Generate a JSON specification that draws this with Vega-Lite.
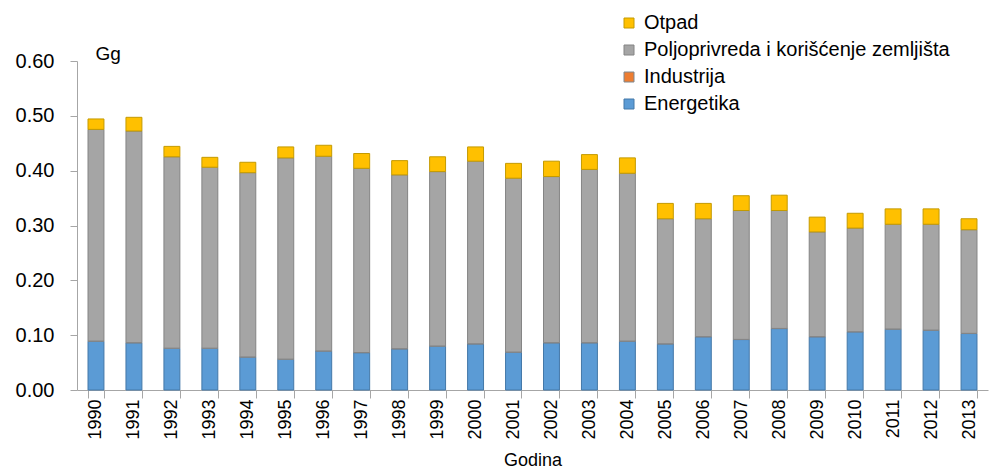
{
  "$schema": "https://vega.github.io/schema/vega-lite/v6.json",
  "width": 911,
  "height": 329,
  "autosize": {"type": "none"},
  "padding": {"left": 77, "top": 61, "right": 1, "bottom": 82},
  "background": "white",
  "config": {"view": {"stroke": null}, "font": "Liberation Sans"},
  "data": {"values": [
    {"godina": "1990", "Energetika": 0.089, "Industrija": 0.0003, "Poljoprivreda i korišćenje zemljišta": 0.386, "Otpad": 0.019},
    {"godina": "1991", "Energetika": 0.086, "Industrija": 0.0003, "Poljoprivreda i korišćenje zemljišta": 0.386, "Otpad": 0.025},
    {"godina": "1992", "Energetika": 0.076, "Industrija": 0.0003, "Poljoprivreda i korišćenje zemljišta": 0.349, "Otpad": 0.019},
    {"godina": "1993", "Energetika": 0.076, "Industrija": 0.0003, "Poljoprivreda i korišćenje zemljišta": 0.330, "Otpad": 0.018},
    {"godina": "1994", "Energetika": 0.060, "Industrija": 0.0003, "Poljoprivreda i korišćenje zemljišta": 0.336, "Otpad": 0.019},
    {"godina": "1995", "Energetika": 0.056, "Industrija": 0.0003, "Poljoprivreda i korišćenje zemljišta": 0.367, "Otpad": 0.020},
    {"godina": "1996", "Energetika": 0.071, "Industrija": 0.0003, "Poljoprivreda i korišćenje zemljišta": 0.355, "Otpad": 0.020},
    {"godina": "1997", "Energetika": 0.068, "Industrija": 0.0003, "Poljoprivreda i korišćenje zemljišta": 0.336, "Otpad": 0.027},
    {"godina": "1998", "Energetika": 0.075, "Industrija": 0.0003, "Poljoprivreda i korišćenje zemljišta": 0.317, "Otpad": 0.026},
    {"godina": "1999", "Energetika": 0.080, "Industrija": 0.0003, "Poljoprivreda i korišćenje zemljišta": 0.318, "Otpad": 0.027},
    {"godina": "2000", "Energetika": 0.084, "Industrija": 0.0003, "Poljoprivreda i korišćenje zemljišta": 0.333, "Otpad": 0.026},
    {"godina": "2001", "Energetika": 0.069, "Industrija": 0.0003, "Poljoprivreda i korišćenje zemljišta": 0.317, "Otpad": 0.027},
    {"godina": "2002", "Energetika": 0.086, "Industrija": 0.0003, "Poljoprivreda i korišćenje zemljišta": 0.303, "Otpad": 0.028},
    {"godina": "2003", "Energetika": 0.086, "Industrija": 0.0003, "Poljoprivreda i korišćenje zemljišta": 0.316, "Otpad": 0.027},
    {"godina": "2004", "Energetika": 0.089, "Industrija": 0.0003, "Poljoprivreda i korišćenje zemljišta": 0.306, "Otpad": 0.028},
    {"godina": "2005", "Energetika": 0.084, "Industrija": 0.0003, "Poljoprivreda i korišćenje zemljišta": 0.228, "Otpad": 0.028},
    {"godina": "2006", "Energetika": 0.097, "Industrija": 0.0003, "Poljoprivreda i korišćenje zemljišta": 0.215, "Otpad": 0.028},
    {"godina": "2007", "Energetika": 0.092, "Industrija": 0.0003, "Poljoprivreda i korišćenje zemljišta": 0.235, "Otpad": 0.027},
    {"godina": "2008", "Energetika": 0.112, "Industrija": 0.0003, "Poljoprivreda i korišćenje zemljišta": 0.215, "Otpad": 0.028},
    {"godina": "2009", "Energetika": 0.097, "Industrija": 0.0003, "Poljoprivreda i korišćenje zemljišta": 0.191, "Otpad": 0.027},
    {"godina": "2010", "Energetika": 0.106, "Industrija": 0.0003, "Poljoprivreda i korišćenje zemljišta": 0.189, "Otpad": 0.027},
    {"godina": "2011", "Energetika": 0.111, "Industrija": 0.0003, "Poljoprivreda i korišćenje zemljišta": 0.191, "Otpad": 0.028},
    {"godina": "2012", "Energetika": 0.109, "Industrija": 0.0003, "Poljoprivreda i korišćenje zemljišta": 0.193, "Otpad": 0.028},
    {"godina": "2013", "Energetika": 0.103, "Industrija": 0.0003, "Poljoprivreda i korišćenje zemljišta": 0.189, "Otpad": 0.020}
  ]},
  "transform": [
    {"fold": ["Energetika", "Industrija", "Poljoprivreda i korišćenje zemljišta", "Otpad"], "as": ["sektor", "vrednost"]},
    {"calculate": "indexof(['Energetika','Industrija','Poljoprivreda i korišćenje zemljišta','Otpad'], datum.sektor)", "as": "redosled"}
  ],
  "mark": {"type": "bar", "strokeWidth": 1},
  "encoding": {
    "x": {
      "field": "godina", "type": "nominal",
      "scale": {"paddingInner": 0.58, "paddingOuter": 0.29},
      "axis": {
        "title": "Godina", "titleFont": "Liberation Sans", "titleFontSize": 18, "titleFontWeight": "normal", "titleColor": "#000", "titlePadding": 12,
        "labelAngle": -90, "labelFont": "Liberation Sans", "labelFontSize": 18, "labelColor": "#000", "labelPadding": 1,
        "domainColor": "#A6A6A6", "tickColor": "#A6A6A6", "tickBand": "extent", "tickSize": 8
      }
    },
    "y": {
      "field": "vrednost", "type": "quantitative", "stack": "zero",
      "scale": {"domain": [0, 0.6], "nice": false},
      "axis": {
        "title": "Gg", "titleAngle": 0, "titleX": 18, "titleY": -8, "titleAlign": "left", "titleBaseline": "middle",
        "titleFont": "Liberation Sans", "titleFontSize": 19, "titleFontWeight": "normal", "titleColor": "#000",
        "values": [0, 0.1, 0.2, 0.3, 0.4, 0.5, 0.6], "format": ".2f", "grid": false,
        "labelFont": "Liberation Sans", "labelFontSize": 20, "labelColor": "#000", "labelPadding": 16,
        "domainColor": "#A6A6A6", "tickColor": "#A6A6A6", "tickSize": 7
      }
    },
    "color": {
      "field": "sektor", "type": "nominal",
      "scale": {
        "domain": ["Otpad", "Poljoprivreda i korišćenje zemljišta", "Industrija", "Energetika"],
        "range": ["#FFC000", "#A5A5A5", "#ED7D31", "#5B9BD5"]
      },
      "legend": {
        "title": null, "orient": "none", "legendX": 542, "legendY": -48,
        "symbolType": "square", "symbolSize": 100, "symbolStrokeWidth": 1,
        "labelFont": "Liberation Sans", "labelFontSize": 20, "labelColor": "#000", "labelOffset": 5, "labelLimit": 500,
        "rowPadding": 7
      }
    },
    "stroke": {
      "field": "sektor", "type": "nominal",
      "scale": {
        "domain": ["Otpad", "Poljoprivreda i korišćenje zemljišta", "Industrija", "Energetika"],
        "range": ["#C49A00", "#848484", "#7F8890", "#4478A8"]
      },
      "legend": null
    },
    "order": {"field": "redosled", "type": "quantitative"}
  }
}
